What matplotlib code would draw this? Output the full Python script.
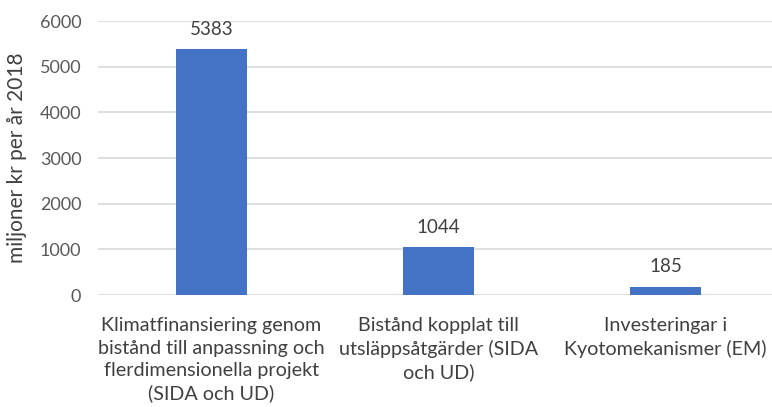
import matplotlib
matplotlib.use("Agg")
import matplotlib.pyplot as plt

categories = ["Klimatfinansiering genom\nbistånd till anpassning och\nflerdimensionella projekt\n(SIDA och UD)",
              "Bistånd kopplat till\nutsläppsåtgärder (SIDA\noch UD)",
              "Investeringar i\nKyotomekanismer (EM)"]
values = [5383, 1044, 185]
yticks = [0, 1000, 2000, 3000, 4000, 5000, 6000]

plt.rcParams['font.family'] = ['Lato', 'DejaVu Sans']

W, H = 772, 407
fig = plt.figure(figsize=(W/100, H/100), dpi=100)
ax = fig.add_axes([98/W, 1-295/H, (772-98)/W, (295-21)/H])

x = list(range(len(values)))
bars = ax.bar(x, values, width=0.313, color="#4472C4", zorder=3)
for xi, v in zip(x, values):
    ax.text(xi, v + 250, str(v), ha="center", va="bottom", fontsize=13.5, color="#404040")

ax.set_ylim(0, 6000)
ax.set_xlim(-0.5, (772-98)/227 - 0.5)
ax.set_yticks(yticks)
ax.set_yticklabels([str(t) for t in yticks], fontsize=13, color="#595959")
ax.set_xticks(x)
ax.set_xticklabels(categories, fontsize=14.2, color="#404040", linespacing=1.38, va="top")
ax.tick_params(axis="both", length=0)
ax.tick_params(axis="x", pad=16)
ax.tick_params(axis="y", pad=12)
ax.yaxis.grid(True, color="#D9D9D9", linewidth=1.2, zorder=0)
for s in ax.spines.values():
    s.set_visible(False)
ax.set_ylabel("miljoner kr per år 2018", fontsize=15, color="#404040", labelpad=9)

fig.savefig("out.png", dpi=100)
